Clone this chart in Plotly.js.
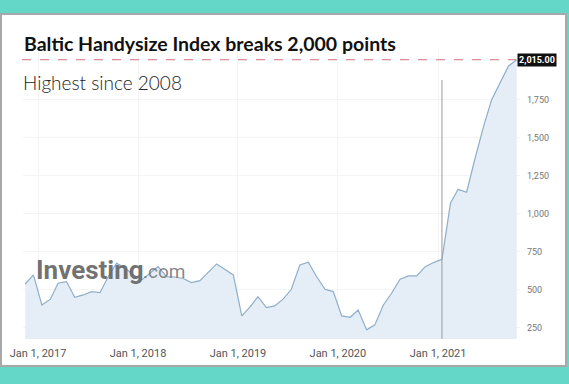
<!DOCTYPE html>
<html>
<head>
<meta charset="utf-8">
<script src="https://cdn.plot.ly/plotly-3.0.1.min.js"></script>
<style>
  html, body { margin: 0; padding: 0; background: #64d7c9; width: 569px; height: 384px; overflow: hidden; }
  #panel { position: absolute; left: 0; top: 13px; width: 567px; height: 354px; background: #fff; border: 2px solid #a8a8a8; box-sizing: border-box; }
  #chart { position: absolute; left: 0; top: 0; width: 569px; height: 384px; }
</style>
</head>
<body>
<div id="panel"></div>
<div id="chart"></div>
<script>
const dates = [
  '2016-11-15','2016-12-15',
  '2017-01-15','2017-02-15','2017-03-15','2017-04-15','2017-05-15','2017-06-15','2017-07-15','2017-08-15','2017-09-15','2017-10-15','2017-11-15','2017-12-15',
  '2018-01-15','2018-02-15','2018-03-15','2018-04-15','2018-05-15','2018-06-15','2018-07-15','2018-08-15','2018-09-15','2018-10-15','2018-11-15','2018-12-15',
  '2019-01-15','2019-02-15','2019-03-15','2019-04-15','2019-05-15','2019-06-15','2019-07-15','2019-08-15','2019-09-15','2019-10-15','2019-11-15','2019-12-15',
  '2020-01-15','2020-02-15','2020-03-15','2020-04-15','2020-05-15','2020-06-15','2020-07-15','2020-08-15','2020-09-15','2020-10-15','2020-11-15','2020-12-15',
  '2021-01-15','2021-02-15','2021-03-15','2021-04-15','2021-05-15','2021-06-15','2021-07-15','2021-08-15','2021-09-15','2021-10-15'
];
const values = [
  539, 599,
  401, 439, 544, 555, 452, 467, 489, 482, 590, 676, 643, 600,
  566, 610, 653, 587, 585, 575, 548, 561, 620, 671, 635, 599,
  329, 390, 456, 384, 395, 439, 504, 664, 682, 588, 504, 489,
  329, 320, 368, 237, 270, 401, 478, 570, 592, 592, 653, 680,
  701, 1070, 1162, 1143, 1360, 1570, 1750, 1860, 1974, 2015
];
const xTickVals = ['2017-01-01','2018-01-01','2019-01-01','2020-01-01','2021-01-01'];
const xTickText = ['Jan 1, 2017','Jan 1, 2018','Jan 1, 2019','Jan 1, 2020','Jan 1, 2021'];
const yTickVals = [250, 500, 750, 1000, 1250, 1500, 1750];
const yTickText = ['250','500','750','1,000','1,250','1,500','1,750'];
const titleText = 'Baltic Handysize Index breaks 2,000 points';
const subtitleText = 'Highest since 2008';
const lastLabel = '2,015.00';
const hoverIndex = 50;

const trace = {
  x: dates, y: values, type: 'scatter', mode: 'lines',
  line: { color: '#8eaecb', width: 1.2 },
  fill: 'tozeroy', fillcolor: '#e5eef6',
  hoverinfo: 'skip'
};
const lastVal = values[values.length - 1];

const layout = {
  width: 569, height: 384,
  margin: { l: 23, r: 49, t: 50, b: 45 },
  paper_bgcolor: 'rgba(0,0,0,0)',
  plot_bgcolor: 'rgba(0,0,0,0)',
  showlegend: false,
  xaxis: {
    type: 'date',
    range: ['2016-11-07', '2021-10-27'],
    tickvals: xTickVals, ticktext: xTickText,
    showgrid: true, gridcolor: '#f4f4f4', gridwidth: 1,
    zeroline: false, showline: false, ticks: '',
    ticklabelstandoff: 6,
    tickfont: { family: 'Roboto, sans-serif', size: 11, color: '#555' }
  },
  yaxis: {
    side: 'right',
    range: [177, 2079],
    tickvals: yTickVals, ticktext: yTickText,
    showgrid: true, gridcolor: '#f4f4f4', gridwidth: 1,
    zeroline: false, showline: false, ticks: '',
    ticklabelstandoff: 6,
    tickfont: { family: 'Roboto, sans-serif', size: 9, color: '#777' }
  },
  shapes: [
    { type: 'line', xref: 'paper', yref: 'y', x0: -0.002, x1: 0.992, y0: lastVal, y1: lastVal,
      line: { color: '#d4707a', width: 1, dash: 'dash' } },
    { type: 'line', xref: 'x', yref: 'paper', x0: dates[hoverIndex], x1: dates[hoverIndex], y0: 0, y1: 0.896,
      line: { color: '#9a9a9a', width: 1 } }
  ],
  annotations: [
    { text: '<b>' + titleText + '</b>', xref: 'paper', yref: 'paper', x: -0.002, y: 1.021,
      xanchor: 'left', yanchor: 'middle', showarrow: false,
      font: { family: 'Lato, sans-serif', size: 19.5, color: '#111' } },
    { text: subtitleText, xref: 'paper', yref: 'paper', x: -0.004, y: 0.886,
      xanchor: 'left', yanchor: 'middle', showarrow: false,
      font: { family: 'Lato, sans-serif', size: 19, weight: 300, color: '#222' } },
    { text: lastLabel, xref: 'paper', yref: 'y', x: 0.994, y: lastVal,
      xanchor: 'left', yanchor: 'middle', showarrow: false,
      bgcolor: '#111', borderpad: 1,
      font: { family: 'Roboto, sans-serif', size: 9, weight: 'bold', color: '#fff' } },
    { text: '<b>Investing</b>', xref: 'paper', yref: 'paper', x: 0.022, y: 0.24,
      xanchor: 'left', yanchor: 'middle', showarrow: false,
      font: { family: 'Roboto, sans-serif', size: 26, color: 'rgba(105,105,105,0.95)' } },
    { text: '.com', xref: 'paper', yref: 'paper', x: 0.238, y: 0.233,
      xanchor: 'left', yanchor: 'middle', showarrow: false,
      font: { family: 'Roboto, sans-serif', size: 19, color: 'rgba(120,120,120,0.9)' } }
  ]
};

Plotly.newPlot('chart', [trace], layout, { displayModeBar: false, staticPlot: true });
</script>
</body>
</html>
